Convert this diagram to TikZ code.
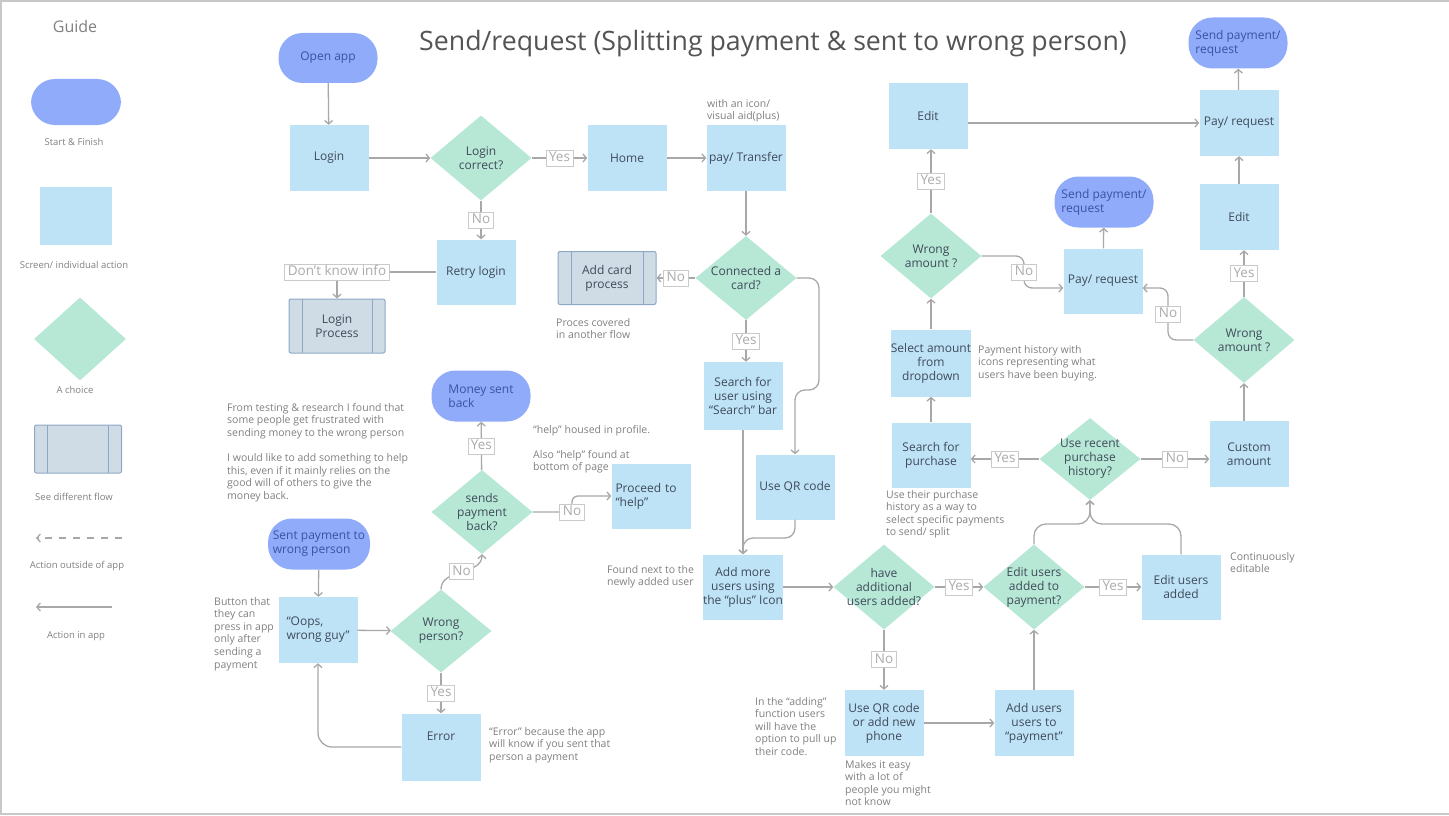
\documentclass[tikz,border=0pt]{standalone}
\usepackage{fontspec}
\setmainfont{Open Sans}
\usetikzlibrary{shapes.geometric,arrows.meta}
\definecolor{pillc}{HTML}{8FABFA}
\definecolor{pilltxt}{HTML}{3A52A3}
\definecolor{scrc}{HTML}{BEE3F7}
\definecolor{chcc}{HTML}{B6E8D5}
\definecolor{sflc}{HTML}{CFDCE6}
\definecolor{sfbc}{HTML}{8EA7C6}
\definecolor{txtc}{HTML}{3F4A5A}
\definecolor{wirec}{HTML}{A8A8A8}
\definecolor{lbdc}{HTML}{CACACA}
\definecolor{lbtc}{HTML}{ABABAB}
\definecolor{notec}{HTML}{808080}
\definecolor{framec}{HTML}{C8C8C8}

\begin{document}
\begin{tikzpicture}[x=1pt,y=-1pt,
    every node/.style={inner sep=0pt},
    pillbox/.style={fill=pillc,text=pilltxt,rounded corners=24pt,minimum width=99pt,minimum height=50pt,align=left,font=\fontsize{12}{14}\selectfont},
    screen/.style={fill=scrc,text=txtc,minimum width=79pt,minimum height=66pt,align=center,font=\fontsize{12}{14}\selectfont},
    choice/.style={diamond,fill=chcc,minimum width=101pt,minimum height=85pt},
    ctxt/.style={text=txtc,align=center,font=\fontsize{12}{14}\selectfont},
    flowbox/.style={draw=sfbc,fill=sflc,line width=1pt,rounded corners=2pt,minimum width=96pt,minimum height=54pt,align=center,text=txtc,font=\fontsize{12}{14}\selectfont,
      path picture={\draw[sfbc,line width=1pt] ([xshift=13pt]path picture bounding box.north west) -- ([xshift=13pt]path picture bounding box.south west)
        ([xshift=-13pt]path picture bounding box.north east) -- ([xshift=-13pt]path picture bounding box.south east);}},
    lbl/.style={draw=lbdc,fill=white,text=lbtc,sharp corners,line width=0.8pt,inner xsep=3pt,inner ysep=2pt,text height=9.5pt,text depth=2.5pt,font=\fontsize{13.5}{14}\selectfont},
    remark/.style={text=notec,align=left,anchor=north west,font=\fontsize{10.5}{12.6}\selectfont},
    legend/.style={text=notec,font=\fontsize{9.5}{11}\selectfont},
    flow/.style={draw=wirec,line width=1.3pt,-{Straight Barb[length=3.5pt,width=8pt]}},
  ]
  \useasboundingbox (0,0) rectangle (1449,816);
  \draw[framec,line width=2pt] (1449,1) -- (1,1) -- (1,814) -- (1449,814);

  \node[text=notec,font=\fontsize{16}{18}\selectfont] (guide) at (75,27) {Guide};
  \node[pillbox,minimum width=90pt,minimum height=46pt] (lgpill) at (76,102) {};
  \node[legend] (lgpilltx) at (74,142) {Start \& Finish};
  \node[screen,minimum width=72pt,minimum height=58pt] (lgscr) at (76,216) {};
  \node[legend] (lgscrtx) at (74,265) {Screen/ individual action};
  \node[choice,minimum width=92pt,minimum height=83pt] (lgchc) at (80,339) {};
  \node[legend] (lgchctx) at (75,390) {A choice};
  \node[flowbox,minimum width=87pt,minimum height=48pt] (lgflow) at (78,449) {};
  \node[legend] (lgflowtx) at (74,497) {See different flow};
  \coordinate (lgd1) at (122,538);
  \coordinate (lgd2) at (36,538);
  \draw[flow,dash pattern=on 7pt off 7pt] (lgd1) -- (lgd2);
  \node[legend] (lgdtx) at (77,566) {Action outside of app};
  \coordinate (lga1) at (112,607);
  \coordinate (lga2) at (36,607);
  \draw[flow] (lga1) -- (lga2);
  \node[legend] (lgatx) at (76,636) {Action in app};

  \node[text=black!67,font=\fontsize{26.7}{30}\selectfont] (title) at (773,44) {Send/request (Splitting payment \& sent to wrong person)};

  \node[pillbox] (open) at (328,58) {Open app};
  \node[screen] (login) at (329,158) {Login};
  \node[choice,label={[ctxt]center:{Login\\correct?}}] (lc) at (481,158) {};
  \node[screen] (home) at (627,158) {Home};
  \node[screen] (pay) at (746,158) {pay/ Transfer};
  \node[screen,minimum height=65pt] (retry) at (476,272) {Retry login};
  \node[flowbox] (lproc) at (337,326) {Login\\Process};
  \node[choice,minimum height=84pt,label={[ctxt]center:{Connected a\\card?}}] (cc) at (746,278) {};
  \node[flowbox,minimum width=98pt,minimum height=53pt] (addcard) at (607,278) {Add card\\process};
  \node[screen,minimum height=68pt] (search) at (743,396) {Search for\\user using\\``Search'' bar};
  \node[screen,minimum height=65pt] (qr) at (795,487) {Use QR code};
  \node[screen,minimum height=65pt] (amu) at (743,587) {Add more\\users using\\the ``plus'' Icon};
  \node[choice,label={[ctxt]center:{have\\additional\\users added?}}] (hav) at (884,587) {};
  \node[choice,label={[ctxt]center:{Edit users\\added to\\payment?}}] (eup) at (1034,587) {};
  \node[screen,minimum height=65pt] (eua) at (1181,587) {Edit users\\added};
  \node[screen] (uqr) at (884,723) {Use QR code\\or add new\\phone};
  \node[screen] (aup) at (1034,723) {Add users\\users to\\``payment''};
  \node[choice,minimum height=82pt,label={[ctxt]center:{Use recent\\purchase\\history?}}] (urp) at (1090,459) {};
  \node[screen,minimum height=65pt] (sfp) at (931,455) {Search for\\purchase};
  \node[screen] (ca) at (1249,454) {Custom\\amount};
  \node[screen,minimum height=67pt] (sam) at (931,363) {Select amount\\from\\dropdown};
  \node[choice,label={[ctxt]center:{Wrong\\amount ?}}] (wa1) at (931,256) {};
  \node[screen] (ed1) at (928,116) {Edit};
  \node[screen,minimum height=65pt] (pr2) at (1103,281) {Pay/ request};
  \node[pillbox,minimum height=51pt] (sp1) at (1104,202) {Send payment/\\request};
  \node[choice,minimum height=86pt,label={[ctxt]center:{Wrong\\amount ?}}] (wa2) at (1244,340) {};
  \node[screen] (ed2) at (1239,217) {Edit};
  \node[screen] (pr1) at (1239,123) {Pay/ request};
  \node[pillbox,minimum height=51pt] (sp2) at (1238,43) {Send payment/\\request};

  \node[pillbox,minimum height=51pt] (msb) at (481,396) {Money sent\\back};
  \node[choice,minimum height=84pt,label={[ctxt]center:{sends\\payment\\back?}}] (spb) at (482,512) {};
  \node[screen,minimum height=65pt,text width=71pt,align=left] (help) at (651,496) {Proceed to\\``help''};
  \node[pillbox,minimum width=102pt,minimum height=51pt] (spw) at (319,544) {Sent payment to\\wrong person};
  \node[screen,align=left] (oops) at (318,630) {``Oops,\\wrong guy''};
  \node[choice,minimum height=83pt,label={[ctxt]center:{Wrong\\person?}}] (wp) at (441,631) {};
  \node[screen,minimum height=67pt,text depth=22pt] (err) at (441,747) {Error};

  \node[remark] (iconnote) at (707,99) {with an icon/\\visual aid(plus)};
  \node[remark] (cardnote) at (556,318) {Proces covered\\in another flow};
  \node[remark] (helpnote) at (533,425) {``help'' housed in profile.};
  \node[remark] (helpnote2) at (533,450) {Also ``help'' found at\\bottom of page};
  \node[remark] (plusnote) at (607,565) {Found next to the\\newly added user};
  \node[remark] (oopsnote) at (214,597) {Button that\\they can\\press in app\\only after\\sending a\\payment};
  \node[remark] (testnote) at (227,403) {From testing \& research I found that\\some people get frustrated with\\sending money to the wrong person\\[12.6pt]I would like to add something to help\\this, even if it mainly relies on the\\good will of others to give the\\money back.};
  \node[remark] (errnote) at (489,727) {``Error'' because the app\\will know if you sent that\\person a payment};
  \node[remark] (addnote) at (755,697) {In the ``adding''\\function users\\will have the\\option to pull up\\their code.};
  \node[remark] (easynote) at (845,760) {Makes it easy\\with a lot of\\people you might\\not know};
  \node[remark] (contnote) at (1230,552) {Continuously\\editable};
  \node[remark] (histnote) at (886,490) {Use their purchase\\history as a way to\\select specific payments\\to send/ split};
  \node[remark] (paynote) at (978,345) {Payment history with\\icons representing what\\users have been buying.};

  \draw[flow] (open) -- (login);
  \draw[flow] (login) -- (lc);
  \draw[flow] (lc) -- node[lbl] (y1) {Yes} (home);
  \draw[flow] (home) -- (pay);
  \draw[flow] (lc.south) -- node[lbl] (n1) {No} (lc.south |- retry.north);
  \draw[flow] (retry.west) -| node[lbl] (dk) {Don't know info} (lproc.north);
  \draw[flow] (pay) -- (cc);
  \draw[flow] (cc) -- node[lbl] (n2) {No} (addcard);
  \draw[flow] (cc.south) -- node[lbl] (y2) {Yes} (cc.south |- search.north);
  \draw[flow,rounded corners=10pt] (cc.east) -- (819,278) -- (819,390) -- (795,390) -- (qr.north);
  \draw[flow] (search) -- (amu);
  \draw[flow,rounded corners=10pt] (qr.south) -- (795,538) -- (743,538) -- (amu.north);
  \draw[flow] (amu) -- (hav);
  \draw[flow] (hav) -- node[lbl] (y3) {Yes} (eup);
  \draw[flow] (eup) -- node[lbl] (y4) {Yes} (eua);
  \draw[flow] (hav) -- node[lbl] (n3) {No} (uqr);
  \draw[flow] (uqr) -- (aup);
  \draw[flow] (aup) -- (eup);
  \draw[flow,rounded corners=12pt] (eup.north) -- (1034,524) -- (1090,524) -- (urp.south);
  \draw[flow,rounded corners=12pt] (eua.north) -- (1181,524) -- (1090,524) -- (urp.south);
  \draw[flow] (urp.west) -- node[lbl] (y5) {Yes} (urp.west -| sfp.east);
  \draw[flow] (urp.east) -- node[lbl] (n4) {No} (urp.east -| ca.west);
  \draw[flow] (sfp) -- (sam);
  \draw[flow] (sam) -- (wa1);
  \draw[flow] (wa1.north) -- node[lbl] (y6) {Yes} (wa1.north |- ed1.south);
  \draw[flow,rounded corners=8pt] (wa1.east) -- (1024,256) -- node[lbl] (n5) {No} (1024,288) -- ([yshift=-7pt]pr2.west);
  \draw[flow,rounded corners=8pt] (wa2.west) -- (1168,340) -- node[lbl] (n6) {No} (1168,288) -- ([yshift=-7pt]pr2.east);
  \draw[flow] (pr2) -- (sp1);
  \draw[flow] (ed1.east |- pr1.west) -- (pr1.west);
  \draw[flow] (pr1) -- (sp2);
  \draw[flow] (ed2) -- (pr1);
  \draw[flow] (wa2.north) -- node[lbl] (y7) {Yes} (wa2.north |- ed2.south);
  \draw[flow] (wa2.south |- ca.north) -- (wa2.south);

  \draw[flow] (spw) -- (oops);
  \draw[flow] (oops) -- (wp);
  \draw[flow] (wp) -- node[lbl] (y8) {Yes} (err);
  \draw[flow,rounded corners=14pt] (err.west) -| (oops.south);
  \draw[flow] (wp.north) to[out=90,in=-90] node[lbl] (n7) {No} (spb.south);
  \draw[flow] (spb) -- node[lbl] (y9) {Yes} (msb);
  \draw[flow,rounded corners=6pt] (spb.east) -- node[lbl,pos=1] (n8) {No} (572,512) -- (572,496) -- (help.west);
\end{tikzpicture}
\end{document}
